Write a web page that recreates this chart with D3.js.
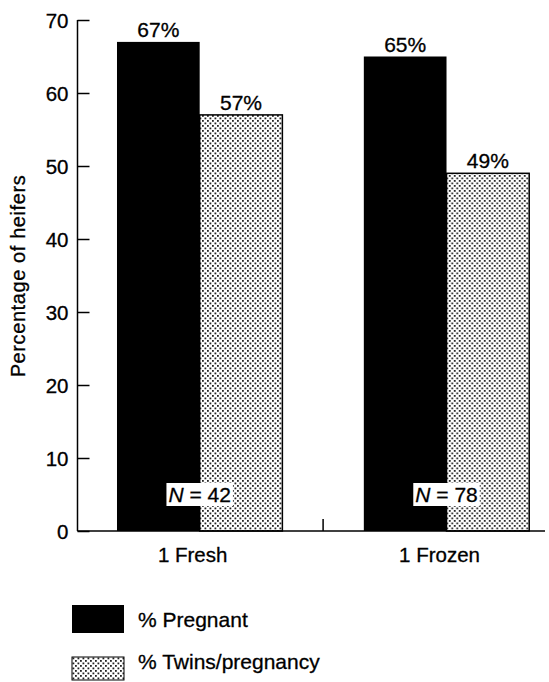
<!DOCTYPE html>
<html>
<head>
<meta charset="utf-8">
<script src="https://cdn.jsdelivr.net/npm/d3@7"></script>
<style>
  body { margin: 0; background: #fff; }
  svg { display: block; }
  text { font-family: "Liberation Sans", Arial, sans-serif; fill: #000; stroke: #000; stroke-width: 0.3px; }
</style>
</head>
<body>
<svg id="chart" width="549" height="682"></svg>
<script>
// data
const groups = ["1 Fresh", "1 Frozen"];
const seriesNames = ["% Pregnant", "% Twins/pregnancy"];
const pregnant = [67, 65];
const twins = [57, 49];
const nLabels = [42, 78];
const yTicks = [0, 10, 20, 30, 40, 50, 60, 70];

const svg = d3.select("#chart");
const axisX = 77.5;

const y = d3.scaleLinear().domain([0, 70]).range([531, 20]);

const x = d3.scaleBand()
  .domain(groups)
  .range([axisX, 568.7])
  .paddingInner(0.33)
  .paddingOuter(0.16);

const xs = d3.scaleBand()
  .domain(seriesNames)
  .range([0, x.bandwidth()]);

// stipple fill for twins bars
const defs = svg.append("defs");
const pat = defs.append("pattern")
  .attr("id", "stipple")
  .attr("patternUnits", "userSpaceOnUse")
  .attr("width", 5)
  .attr("height", 5);
pat.append("rect").attr("width", 5).attr("height", 5).attr("fill", "#fff");
pat.append("rect").attr("x", 0).attr("y", 0).attr("width", 1.8).attr("height", 1.8).attr("fill", "#222");
pat.append("rect").attr("x", 2.5).attr("y", 2.5).attr("width", 1.8).attr("height", 1.8).attr("fill", "#222");

const fills = { "% Pregnant": "#000", "% Twins/pregnancy": "url(#stipple)" };

const rows = groups.map((g, i) => ({
  group: g,
  n: nLabels[i],
  values: [
    { key: seriesNames[0], value: pregnant[i] },
    { key: seriesNames[1], value: twins[i] }
  ]
}));

// bars
const gGroups = svg.append("g").selectAll("g")
  .data(rows)
  .join("g")
  .attr("transform", d => `translate(${x(d.group)},0)`);

gGroups.selectAll("rect")
  .data(d => d.values)
  .join("rect")
  .attr("x", d => xs(d.key))
  .attr("y", d => y(d.value))
  .attr("width", xs.bandwidth())
  .attr("height", d => y(0) - y(d.value))
  .attr("fill", d => fills[d.key])
  .attr("stroke", d => d.key === seriesNames[1] ? "#000" : "none")
  .attr("stroke-width", 1.5);

gGroups.selectAll("text.val")
  .data(d => d.values)
  .join("text")
  .attr("class", "val")
  .attr("x", d => xs(d.key) + xs.bandwidth() / 2)
  .attr("y", d => y(d.value) - 5)
  .attr("text-anchor", "middle")
  .style("font-size", "21px")
  .text(d => d.value + "%");

// N = labels on a white box
gGroups.each(function(d) {
  const g = d3.select(this);
  const cx = x.bandwidth() / 2;
  const cy = y(5);
  const box = g.append("rect").attr("fill", "#fff");
  const t = g.append("text")
    .attr("x", cx)
    .attr("y", cy + 7.5)
    .attr("text-anchor", "middle")
    .style("font-size", "21px");
  t.append("tspan").style("font-style", "italic").text("N");
  t.append("tspan").text(" = " + d.n);
  const bb = t.node().getBBox();
  box.attr("x", bb.x - 2).attr("y", cy - 11.5).attr("width", bb.width + 4).attr("height", 23);
});

// y axis
const yAxis = svg.append("g")
  .attr("transform", `translate(${axisX},0)`)
  .call(d3.axisRight(y).tickValues(yTicks).tickSize(12).tickFormat(d3.format("d")));
yAxis.select(".domain").remove();
yAxis.selectAll(".tick line").attr("stroke", "#000").attr("stroke-width", 1.5);
yAxis.selectAll(".tick text")
  .attr("x", -9)
  .attr("text-anchor", "end")
  .attr("dy", "0.35em")
  .style("font-size", "20.5px")
  .style("font-family", "'Liberation Sans', Arial, sans-serif");
svg.append("line")
  .attr("x1", axisX).attr("x2", axisX)
  .attr("y1", y(70)).attr("y2", y(0))
  .attr("stroke", "#000").attr("stroke-width", 1.5);

// baseline and group divider tick
svg.append("line")
  .attr("x1", axisX).attr("x2", 545)
  .attr("y1", y(0)).attr("y2", y(0))
  .attr("stroke", "#000").attr("stroke-width", 1.5);
const divX = (x(groups[0]) + x.bandwidth() + x(groups[1])) / 2;
svg.append("line")
  .attr("x1", divX).attr("x2", divX)
  .attr("y1", y(0)).attr("y2", y(0) - 12)
  .attr("stroke", "#000").attr("stroke-width", 1.5);

// category labels
svg.append("g").selectAll("text")
  .data(groups)
  .join("text")
  .attr("x", d => x(d) + x.bandwidth() / 2 - 7)
  .attr("y", 562)
  .attr("text-anchor", "middle")
  .style("font-size", "20.5px")
  .text(d => d);

// y title
svg.append("text")
  .attr("transform", "translate(25,276) rotate(-90)")
  .attr("text-anchor", "middle")
  .style("font-size", "20px")
  .style("letter-spacing", "0.6px")
  .text("Percentage of heifers");

// legend
const legend = svg.append("g");
const legendRows = [
  { key: seriesNames[0], y: 605, h: 28, ty: 627 },
  { key: seriesNames[1], y: 657, h: 23, ty: 669 }
];
legend.selectAll("rect")
  .data(legendRows)
  .join("rect")
  .attr("x", 72)
  .attr("y", d => d.y)
  .attr("width", 52)
  .attr("height", d => d.h)
  .attr("fill", d => fills[d.key])
  .attr("stroke", d => d.key === seriesNames[1] ? "#000" : "none")
  .attr("stroke-width", 1);
legend.selectAll("text")
  .data(legendRows)
  .join("text")
  .attr("x", 138)
  .attr("y", d => d.ty)
  .style("font-size", "21px")
  .text(d => d.key);
</script>
</body>
</html>
